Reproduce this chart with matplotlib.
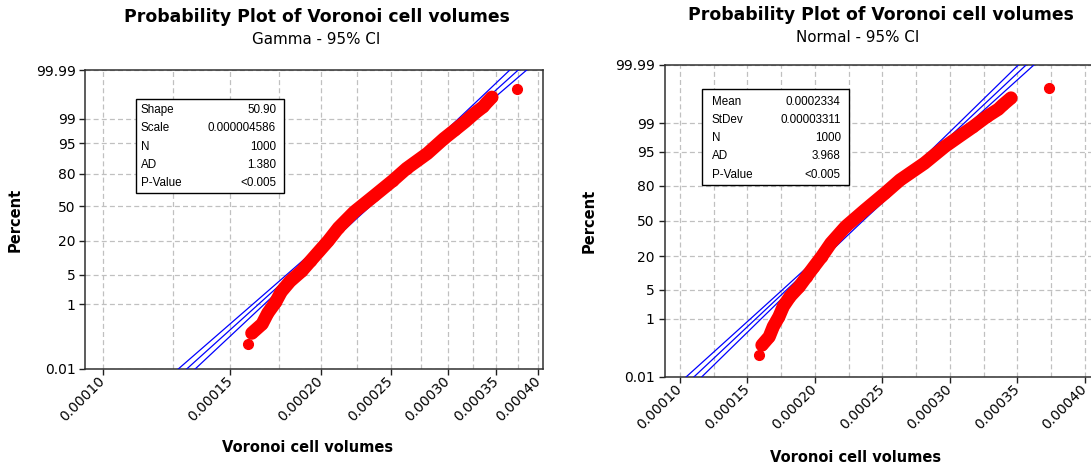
import math
import numpy as np
import matplotlib
matplotlib.use("Agg")
import matplotlib.pyplot as plt
from matplotlib.patches import Rectangle

# sorted sample: cumulative percent (median ranks) and cell volume
pct = [0.069, 0.154, 0.29, 0.59, 1.13, 2.07, 3.58, 5.89, 9.24, 13.8, 19.8,
       29.8, 44.6, 60.3, 74.5, 83.5, 91.5, 96.2, 97.8, 98.76, 99.35, 99.61,
       99.71, 99.83, 99.925]
vol = [1.587e-4, 1.607e-4, 1.661e-4, 1.691e-4, 1.733e-4, 1.765e-4, 1.815e-4,
       1.884e-4, 1.938e-4, 1.993e-4, 2.050e-4, 2.118e-4, 2.227e-4, 2.370e-4,
       2.518e-4, 2.630e-4, 2.810e-4, 2.963e-4, 3.069e-4, 3.172e-4, 3.272e-4,
       3.358e-4, 3.390e-4, 3.452e-4, 3.735e-4]

n_obs = 1000
gamma_shape = 50.90
gamma_scale = 0.000004586
norm_mean = 0.0002334
norm_sd = 0.00003311

gamma_stats = [("Shape", "50.90"), ("Scale", "0.000004586"), ("N", "1000"),
               ("AD", "1.380"), ("P-Value", "<0.005")]
norm_stats = [("Mean", "0.0002334"), ("StDev", "0.00003311"), ("N", "1000"),
              ("AD", "3.968"), ("P-Value", "<0.005")]

pct_ticks = [0.01, 1, 5, 20, 50, 80, 95, 99, 99.99]
pct_labels = ["0.01", "1", "5", "20", "50", "80", "95", "99", "99.99"]
x_ticks = [0.00010, 0.00015, 0.00020, 0.00025, 0.00030, 0.00035, 0.00040]
x_labels = ["0.00010", "0.00015", "0.00020", "0.00025", "0.00030", "0.00035", "0.00040"]
x_grid = [0.000125, 0.000175, 0.000225, 0.000275, 0.000325, 0.000375]


def norm_ppf(p):
    # Acklam's rational approximation
    p = np.clip(np.asarray(p, dtype=float), 1e-12, 1 - 1e-12)
    a = [-3.969683028665376e+01, 2.209460984245205e+02, -2.759285104469687e+02,
         1.383577518672690e+02, -3.066479806614716e+01, 2.506628277459239e+00]
    b = [-5.447609879822406e+01, 1.615858368580409e+02, -1.556989798598866e+02,
         6.680131188771972e+01, -1.328068155288572e+01]
    c = [-7.784894002430293e-03, -3.223964580411365e-01, -2.400758277161838e+00,
         -2.549732539343734e+00, 4.374664141464968e+00, 2.938163982698783e+00]
    d = [7.784695709041462e-03, 3.224671290700398e-01, 2.445134137142996e+00,
         3.754408661907416e+00]
    plow = 0.02425
    out = np.empty_like(p)
    lo = p < plow
    hi = p > 1 - plow
    mid = ~(lo | hi)
    q = np.sqrt(-2 * np.log(p[lo]))
    out[lo] = (((((c[0]*q+c[1])*q+c[2])*q+c[3])*q+c[4])*q+c[5]) / \
              ((((d[0]*q+d[1])*q+d[2])*q+d[3])*q+1)
    q = np.sqrt(-2 * np.log(1 - p[hi]))
    out[hi] = -(((((c[0]*q+c[1])*q+c[2])*q+c[3])*q+c[4])*q+c[5]) / \
               ((((d[0]*q+d[1])*q+d[2])*q+d[3])*q+1)
    q = p[mid] - 0.5
    r = q * q
    out[mid] = (((((a[0]*r+a[1])*r+a[2])*r+a[3])*r+a[4])*r+a[5])*q / \
               (((((b[0]*r+b[1])*r+b[2])*r+b[3])*r+b[4])*r+1)
    return out


_erf = np.vectorize(math.erf)


def norm_cdf(z):
    return 0.5 * (1 + _erf(np.asarray(z, dtype=float) / math.sqrt(2)))


# percent <-> normal score
def pct_to_z(v):
    return norm_ppf(np.asarray(v, dtype=float) / 100)


def z_to_pct(z):
    return 100 * norm_cdf(z)


# percent <-> log gamma quantile (Wilson-Hilferty)
wh = 1 / (9 * gamma_shape)


def pct_to_lg(v):
    z = pct_to_z(v)
    return 3 * np.log(np.maximum(1 - wh + math.sqrt(wh) * z, 1e-9))


def lg_to_pct(y):
    z = (np.exp(np.asarray(y, dtype=float) / 3) - 1 + wh) / math.sqrt(wh)
    return z_to_pct(z)


fig = plt.figure(figsize=(10.91, 4.68), dpi=100)
W, H = 1091, 468

grid_kw = dict(color="#c0c0c0", linestyle=(0, (4, 2.5)), linewidth=0.9)
tick_font = dict(family="DejaVu Sans", size=10)


def px_axes(l, t, r, b):
    return fig.add_axes([l / W, 1 - b / H, (r - l) / W, (b - t) / H])


def style(ax):
    ax.set_ylim(0.01, 99.99)
    ax.set_yticks(pct_ticks)
    ax.set_yticklabels(pct_labels, **tick_font)
    ax.yaxis.set_minor_locator(plt.NullLocator())
    ax.set_xticks(x_ticks)
    ax.set_xticklabels(x_labels, rotation=45, ha="right", va="center",
                       rotation_mode="anchor", **tick_font)
    ax.set_xticks(x_grid, minor=True)
    ax.tick_params(which="minor", length=0)
    ax.tick_params(which="major", length=4, width=1, color="#202020", pad=3)
    ax.grid(True, which="both", **grid_kw)
    ax.set_axisbelow(True)
    for s in ax.spines.values():
        s.set_color("#303030")
        s.set_linewidth(1.1)
    ax.set_ylabel("Percent", fontsize=10.5, fontweight="bold")
    ax.set_xlabel("Voronoi cell volumes", fontsize=10.5, fontweight="bold")


def stats_box(ax, rows, x0, x1, ytop, ybot, xl, xr, ys):
    ax.add_patch(Rectangle((x0, ybot), x1 - x0, ytop - ybot, transform=ax.transAxes,
                           facecolor="white", edgecolor="black", linewidth=1.0, zorder=5))
    for (k, v), y in zip(rows, ys):
        ax.text(xl, y, k, transform=ax.transAxes, ha="left", va="center",
                family="Liberation Sans", size=8.4, zorder=6)
        ax.text(xr, y, v, transform=ax.transAxes, ha="right", va="center",
                family="Liberation Sans", size=8.4, zorder=6)


p_line = np.array([0.005, 0.01, 0.1, 1, 5, 20, 50, 80, 95, 99, 99.9, 99.99, 99.995])
z_line = pct_to_z(p_line)
ci_w = 1.96 * np.sqrt(1 + z_line ** 2 / 2) / math.sqrt(n_obs)

# ---- Gamma probability plot ----
ax1 = px_axes(85.4, 70, 542.5, 369)
ax1.set_xscale("log")
ax1.set_yscale("function", functions=(pct_to_lg, lg_to_pct))
ax1.set_xlim(0.9461e-4, 4.055e-4)
style(ax1)
ax1.xaxis.set_minor_formatter(plt.NullFormatter())

g_fit = gamma_scale * gamma_shape * (1 - wh + math.sqrt(wh) * z_line) ** 3
g_hw = 1.1 * ci_w / math.sqrt(gamma_shape)
for f in (np.exp(-g_hw), 1.0, np.exp(g_hw)):
    ax1.plot(g_fit * f, p_line, color="#0000ff", linewidth=0.9, zorder=3)
ax1.plot(vol[1:-1], pct[1:-1], color="red", linewidth=9.5, solid_capstyle="round",
         solid_joinstyle="round", zorder=4)
ax1.plot(vol, pct, "o", color="red", markersize=7, zorder=4)
ax1.yaxis.set_label_coords((23 - 85.4) / 457.1, 0.5)
ax1.xaxis.set_label_coords((308 - 85.4) / 457.1, (369 - 440) / 299)
stats_box(ax1, gamma_stats, 0.1107, 0.4345, 0.903, 0.5886, 0.1216, 0.4172,
          [(369 - y) / 299 for y in (110, 128.3, 146.6, 164.9, 183.2)])

fig.text(317 / W, 1 - 17 / H, "Probability Plot of Voronoi cell volumes",
         ha="center", va="center", fontsize=12.4, fontweight="bold")
fig.text(316 / W, 1 - 40 / H, "Gamma - 95% CI", ha="center", va="center", fontsize=10.9)

# ---- Normal probability plot ----
ax2 = px_axes(664.5, 64.8, 1099, 377)
ax2.set_yscale("function", functions=(pct_to_z, z_to_pct))
ax2.set_xlim(8.852e-5, 4.104e-4)
style(ax2)

n_fit = norm_mean + z_line * norm_sd
n_hw = ci_w * norm_sd
for off in (-n_hw, 0, n_hw):
    ax2.plot(n_fit + off, p_line, color="#0000ff", linewidth=0.9, zorder=3)
ax2.plot(vol[1:-1], pct[1:-1], color="red", linewidth=9.5, solid_capstyle="round",
         solid_joinstyle="round", zorder=4)
ax2.plot(vol, pct, "o", color="red", markersize=7, zorder=4)
ax2.yaxis.set_label_coords((597 - 664.5) / 434.5, 0.5)
ax2.xaxis.set_label_coords((856 - 664.5) / 434.5, (377 - 450) / 312.2)
stats_box(ax2, norm_stats, 0.0856, 0.4246, 0.9235, 0.615, 0.1086, 0.4055,
          [(377 - y) / 312.2 for y in (101.7, 119.9, 138.1, 156.3, 174.5)])

fig.text(881 / W, 1 - 15 / H, "Probability Plot of Voronoi cell volumes",
         ha="center", va="center", fontsize=12.4, fontweight="bold")
fig.text(858 / W, 1 - 37 / H, "Normal - 95% CI", ha="center", va="center", fontsize=10.9)

fig.savefig("out.png", dpi=100)
